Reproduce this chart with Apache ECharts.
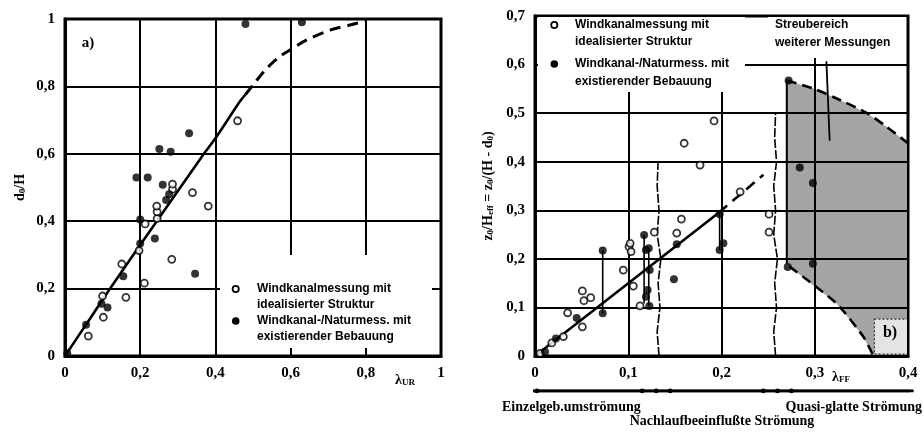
<!DOCTYPE html>
<html><head><meta charset="utf-8">
<script src="https://cdn.jsdelivr.net/npm/echarts@6/dist/echarts.min.js"></script>
<style>html,body{margin:0;padding:0;background:#fff}#c{width:924px;height:433px}</style>
</head><body><div id="c"></div>
<script>
// ---------- Panel a data ----------
const aXTicks = [0, 0.2, 0.4, 0.6, 0.8, 1];
const aYTicks = [0, 0.2, 0.4, 0.6, 0.8, 1];
const aOpen = [[0.062,0.059],[0.102,0.115],[0.10,0.178],[0.162,0.174],[0.151,0.273],[0.211,0.216],[0.197,0.313],[0.284,0.287],[0.213,0.392],[0.245,0.408],[0.245,0.428],[0.244,0.445],[0.286,0.495],[0.286,0.51],[0.339,0.485],[0.381,0.445],[0.459,0.698]];
const aFilled = [[0.006,0.008],[0.056,0.093],[0.097,0.155],[0.113,0.144],[0.155,0.237],[0.2,0.334],[0.2,0.405],[0.239,0.349],[0.346,0.244],[0.19,0.53],[0.22,0.53],[0.26,0.508],[0.277,0.48],[0.269,0.463],[0.251,0.614],[0.281,0.606],[0.33,0.661],[0.48,0.985],[0.63,0.99]];
const aCurveSolid = [[0,0],[0.06,0.1],[0.12,0.2],[0.244,0.4],[0.363,0.59],[0.40,0.646],[0.465,0.755],[0.48,0.776]];
const aCurveDashed = [[0.48,0.776],[0.50,0.804],[0.536,0.853],[0.572,0.889],[0.598,0.908],[0.643,0.938],[0.705,0.967],[0.758,0.982],[0.8,0.995]];

// ---------- Panel b data ----------
const bXTicks = [0, 0.1, 0.2, 0.3, 0.4];
const bYTicks = [0, 0.1, 0.2, 0.3, 0.4, 0.5, 0.6, 0.7];
const bOpen = [[0.0054,0.0055],[0.018,0.027],[0.0304,0.040],[0.0508,0.06],[0.035,0.089],[0.0508,0.134],[0.0525,0.114],[0.0597,0.12],[0.0947,0.177],[0.1008,0.225],[0.103,0.215],[0.102,0.232],[0.1054,0.144],[0.128,0.255],[0.1126,0.103],[0.152,0.253],[0.157,0.282],[0.160,0.438],[0.177,0.393],[0.192,0.484],[0.22,0.338],[0.251,0.292],[0.251,0.255]];
const bFilled = [[0.0107,0.009],[0.0225,0.036],[0.0447,0.078],[0.0726,0.217],[0.0726,0.088],[0.117,0.249],[0.119,0.218],[0.122,0.222],[0.123,0.177],[0.1208,0.136],[0.119,0.122],[0.1226,0.103],[0.149,0.158],[0.152,0.230],[0.198,0.292],[0.202,0.232],[0.198,0.218],[0.271,0.183],[0.272,0.567],[0.284,0.388],[0.298,0.356],[0.298,0.19]];
const bWhiskers = [[0.0726,0.088,0.217],[0.117,0.108,0.249],[0.122,0.103,0.222],[0.198,0.218,0.295]];
const bFitSolid = [[0,0],[0.197,0.295]];
const bFitDashed = [[0.197,0.295],[0.245,0.373]];
const bShadeTop = [[0.27,0.567],[0.298,0.551],[0.327,0.527],[0.356,0.50],[0.377,0.472],[0.40,0.438]];
const bShadeLow = [[0.27,0.19],[0.273,0.184],[0.3235,0.108],[0.352,0.04],[0.363,0.0]];
const bBox = [[0.364,0.004],[0.4,0.076]];
const bWave1 = [[0.133,0],[0.131,0.05],[0.134,0.1],[0.132,0.15],[0.135,0.2],[0.131,0.25],[0.133,0.3],[0.131,0.35],[0.132,0.40]];
const bWave2 = [[0.258,0],[0.256,0.05],[0.259,0.1],[0.257,0.15],[0.26,0.2],[0.256,0.25],[0.258,0.3],[0.256,0.35],[0.259,0.4],[0.257,0.45],[0.258,0.5]];
const bPointer = [[0.3125,0.607],[0.316,0.443]];
const bRegimeY = -0.072;
const bRegimeLine = [-0.002, 0.406];
const bRegimeMarks = [0.002, 0.115, 0.13, 0.145, 0.245, 0.26, 0.275];

function fmt(v){ if (Math.abs(v) < 1e-9) return '0'; if (Math.abs(v-1) < 1e-9) return '1'; return v.toFixed(1).replace('.', ','); }

const tickFont = {fontFamily:'Liberation Serif', fontWeight:'bold', fontSize:15, color:'#000'};
const rich = {
  i:{fontFamily:'Liberation Serif', fontWeight:'bold', fontSize:14, color:'#000', lineHeight:18, verticalAlign:'bottom'},
  s:{fontFamily:'Liberation Serif', fontWeight:'bold', fontSize:9, color:'#000', lineHeight:14, verticalAlign:'bottom'}
};

function valAxis(grid, min, max, interval, extra){
  return Object.assign({
    type:'value', gridIndex:grid, min, max, interval, z:1,
    axisLine:{show:true, onZero:false, lineStyle:{color:'#000', width:3}},
    axisTick:{show:false},
    splitLine:{show:true, lineStyle:{color:'#000', width:2}},
    axisLabel:Object.assign({formatter:fmt, margin:10}, tickFont)
  }, extra||{});
}

const openStyle = {color:'#fff', borderColor:'#000', borderWidth:1.8};
const filledStyle = {color:'#000'};

const series = [
  {type:'line', xAxisIndex:0, yAxisIndex:0, data:aCurveSolid, smooth:0.3, symbol:'none', lineStyle:{color:'#000', width:2.6}, z:2},
  {type:'line', xAxisIndex:0, yAxisIndex:0, data:aCurveDashed, smooth:0.3, symbol:'none', lineStyle:{color:'#000', width:3, type:[11,7]}, z:2},
  {type:'scatter', xAxisIndex:0, yAxisIndex:0, data:aOpen, symbol:'circle', symbolSize:7, itemStyle:openStyle, z:4},
  {type:'scatter', xAxisIndex:0, yAxisIndex:0, data:aFilled, symbol:'circle', symbolSize:8, itemStyle:filledStyle, z:4},
  {type:'custom', xAxisIndex:1, yAxisIndex:1, data:[0], z:0.5, silent:true, clip:false,
    renderItem:function(p, api){
      const poly = bShadeTop.concat([[0.4,0]]).concat(bShadeLow.slice().reverse()).map(q=>api.coord(q));
      const b0 = api.coord(bBox[0]), b1 = api.coord(bBox[1]);
      const r0 = api.coord([bRegimeLine[0], bRegimeY]), r1 = api.coord([bRegimeLine[1], bRegimeY]);
      const kids = [
        {type:'polygon', shape:{points:poly}, style:{fill:'#a4a4a4', stroke:null}},
        {type:'rect', shape:{x:b0[0], y:b1[1], width:b1[0]-b0[0], height:b0[1]-b1[1]}, style:{fill:'#e4e4e4', stroke:'#333', lineWidth:1.2, lineDash:[2,2]}},
        {type:'polygon', shape:{points:[[r0[0], r0[1]-1.4],[r1[0], r1[1]-1.4],[r1[0], r1[1]+1.4],[r0[0], r0[1]+1.4]]}, style:{fill:'#000', stroke:null}}
      ];
      bRegimeMarks.forEach(m=>{ const q = api.coord([m, bRegimeY]); kids.push({type:'circle', shape:{cx:q[0], cy:q[1], r:2.4}, style:{fill:'#000'}}); });
      return {type:'group', children:kids};
    }},
  {type:'line', xAxisIndex:1, yAxisIndex:1, data:bShadeTop, smooth:0.3, symbol:'none', lineStyle:{color:'#000', width:2.6, type:[10,6]}, z:2},
  {type:'line', xAxisIndex:1, yAxisIndex:1, data:bShadeLow.slice(1), smooth:0.2, symbol:'none', lineStyle:{color:'#000', width:2.6, type:[10,6]}, z:2},
  {type:'line', xAxisIndex:1, yAxisIndex:1, data:[bShadeTop[0], bShadeLow[0]], symbol:'none', lineStyle:{color:'#000', width:2}, z:2},
  {type:'line', xAxisIndex:1, yAxisIndex:1, data:bWave1, symbol:'none', lineStyle:{color:'#000', width:1.6, type:[9,2]}, z:2},
  {type:'line', xAxisIndex:1, yAxisIndex:1, data:bWave2, symbol:'none', lineStyle:{color:'#000', width:1.6, type:[9,2]}, z:2},
  {type:'line', xAxisIndex:1, yAxisIndex:1, data:bPointer, symbol:'none', lineStyle:{color:'#000', width:1.8}, z:2},
  {type:'line', xAxisIndex:1, yAxisIndex:1, data:bFitSolid, symbol:'none', lineStyle:{color:'#000', width:2.6}, z:2},
  {type:'line', xAxisIndex:1, yAxisIndex:1, data:bFitDashed, symbol:'none', lineStyle:{color:'#000', width:2.6, type:[11,7]}, z:2},
  {type:'line', xAxisIndex:1, yAxisIndex:1, data:[[bRegimeLine[0], bRegimeY],[bRegimeLine[1], bRegimeY]], symbol:'none', clip:false, lineStyle:{color:'#000', width:2.6}, z:3}
].concat(bWhiskers.map(w=>({type:'line', xAxisIndex:1, yAxisIndex:1, data:[[w[0],w[1]],[w[0],w[2]]], symbol:'none', lineStyle:{color:'#000', width:1.6}, z:2})))
.concat([
  {type:'scatter', xAxisIndex:1, yAxisIndex:1, data:bOpen, symbol:'circle', symbolSize:7, itemStyle:openStyle, z:4},
  {type:'scatter', xAxisIndex:1, yAxisIndex:1, data:bFilled, symbol:'circle', symbolSize:8, itemStyle:filledStyle, z:4}
]);

const legendFont = 'bold 12px "Liberation Sans"';
function txt(x, y, text, font, align, extra){
  return Object.assign({type:'text', x, y, z:5, style:{text, font:font||legendFont, fill:'#000', align:align||'left', verticalAlign:'middle'}}, extra||{});
}
function circ(x, y, filled){
  return {type:'circle', z:5, shape:{cx:x, cy:y, r:filled?3.8:3.1}, style:{fill:filled?'#000':'#fff', stroke:'#000', lineWidth:filled?0:1.8}};
}

const graphic = [
  {type:'rect', z:1.5, shape:{x:220, y:255, width:212, height:93}, style:{fill:'#fff'}},
  {type:'rect', z:1.5, shape:{x:538, y:17, width:207, height:75}, style:{fill:'#fff'}},
  {type:'rect', z:1.5, shape:{x:768, y:17, width:138, height:41}, style:{fill:'#fff'}},
  circ(235.7, 289, false), txt(257, 289, 'Windkanalmessung mit'), txt(257, 305, 'idealisierter Struktur'),
  circ(235.7, 321, true), txt(257, 321, 'Windkanal-/Naturmess. mit'), txt(257, 337, 'existierender Bebauung'),
  circ(554.3, 25, false), txt(575, 25, 'Windkanalmessung mit'), txt(575, 42, 'idealisierter Struktur'),
  circ(554.3, 64, true), txt(575, 64, 'Windkanal-/Naturmess. mit'), txt(575, 82, 'existierender Bebauung'),
  txt(775, 25, 'Streubereich'), txt(775, 43, 'weiterer Messungen'),
  txt(88, 43, 'a)', 'bold 15px "Liberation Serif"', 'center'),
  txt(890, 333, 'b)', 'bold 16px "Liberation Serif"', 'center'),
  {type:'text', x:405, y:378, z:5, style:{text:'{i|λ}{s|UR}', rich, align:'center', verticalAlign:'middle'}},
  {type:'text', x:841, y:375, z:5, style:{text:'{i|λ}{s|FF}', rich, align:'center', verticalAlign:'middle'}},
  txt(502, 407, 'Einzelgeb.umströmung', 'bold 14px "Liberation Serif"'),
  txt(922, 407, 'Quasi-glatte Strömung', 'bold 14px "Liberation Serif"', 'right'),
  txt(722, 421, 'Nachlaufbeeinflußte Strömung', 'bold 14px "Liberation Serif"', 'center')
];

const option = {
  animation:false,
  backgroundColor:'#fff',
  grid:[
    {left:65, right:483, top:19, bottom:77, show:true, borderColor:'#000', borderWidth:3},
    {left:535, right:16, top:16, bottom:77, show:true, borderColor:'#000', borderWidth:3}
  ],
  xAxis:[valAxis(0, aXTicks[0], aXTicks[aXTicks.length-1], aXTicks[1]-aXTicks[0]),
         valAxis(1, bXTicks[0], bXTicks[bXTicks.length-1], 0.1)],
  yAxis:[valAxis(0, aYTicks[0], aYTicks[aYTicks.length-1], aYTicks[1]-aYTicks[0], {name:'{i|d}{s|0}{i|/H}', nameLocation:'middle', nameGap:38, nameRotate:90, nameTextStyle:{rich}}),
         valAxis(1, bYTicks[0], bYTicks[bYTicks.length-1], 0.1, {name:'{i|z}{s|0}{i|/H}{s|eff}{i| = z}{s|0}{i|/(H - d}{s|0}{i|)}', nameLocation:'middle', nameGap:40, nameRotate:90, nameTextStyle:{rich}})],
  series,
  graphic
};
const chart = echarts.init(document.getElementById('c'), null, {renderer:'canvas'});
chart.setOption(option);
</script></body></html>
